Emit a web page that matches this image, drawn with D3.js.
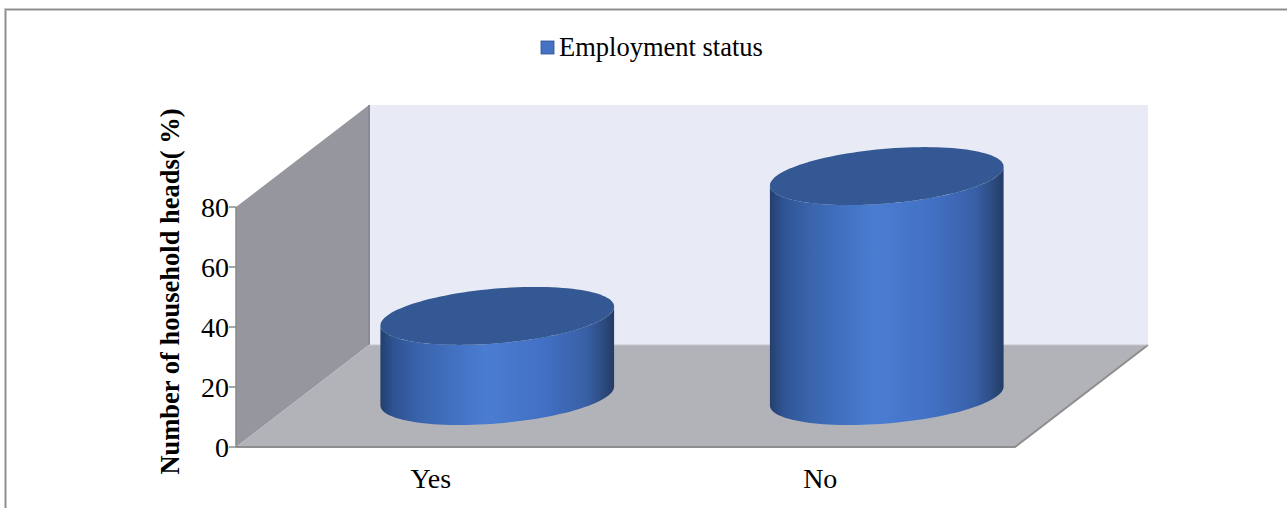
<!DOCTYPE html>
<html>
<head>
<meta charset="utf-8">
<script src="https://cdn.jsdelivr.net/npm/d3@7"></script>
<style>
  html, body { margin: 0; padding: 0; background: #ffffff; }
  svg { display: block; }
  text { font-family: "Liberation Serif", "Times New Roman", serif; fill: #000; }
</style>
</head>
<body>
<svg id="chart" width="1287" height="508"></svg>
<script>
// Employment status of household heads (%)
const categories = ["Yes", "No"];
const values = [26.7, 73.3];
const yTicks = [0, 20, 40, 60, 80];
const seriesName = "Employment status";
const yTitle = "Number of household heads( %)";

const W = 1287, H = 508;
const svg = d3.select("#chart");

// plot frame (front plane) and depth offset of the oblique 3D box
const plot = { left: 236, right: 1015, top: 207, bottom: 447 };
const depth = { dx: 133, dy: -102 };

const x = d3.scaleBand().domain(categories).range([plot.left, plot.right]).padding(0);
const y = d3.scaleLinear().domain([0, 80]).range([plot.bottom, plot.top]);

// outer chart border
svg.append("path")
  .attr("d", `M5.5,${H} L5.5,9.5 L${W},9.5`)
  .attr("fill", "none").attr("stroke", "#c8c8c8").attr("stroke-width", 3);
svg.append("path")
  .attr("d", `M5.5,${H} L5.5,9.5 L${W},9.5`)
  .attr("fill", "none").attr("stroke", "#8c8c8c").attr("stroke-width", 1);

const pt = (px, py, d) => [px + depth.dx * d, py + depth.dy * d];
const poly = pts => "M" + pts.map(p => p.join(",")).join("L") + "Z";

// back wall
svg.append("path")
  .attr("d", poly([pt(plot.left, y(80), 1), pt(plot.right, y(80), 1), pt(plot.right, y(0), 1), pt(plot.left, y(0), 1)]))
  .attr("fill", "#e8eaf6");

// side wall
svg.append("path")
  .attr("d", poly([[plot.left, y(0)], [plot.left, y(80)], pt(plot.left, y(80), 1), pt(plot.left, y(0), 1)]))
  .attr("fill", "#96969e");
svg.append("line")
  .attr("x1", pt(plot.left, y(80), 1)[0]).attr("y1", pt(plot.left, y(80), 1)[1])
  .attr("x2", pt(plot.left, y(0), 1)[0]).attr("y2", pt(plot.left, y(0), 1)[1])
  .attr("stroke", "#8a8a92").attr("stroke-width", 2);

// floor
svg.append("path")
  .attr("d", poly([[plot.left, y(0)], [plot.right, y(0)], pt(plot.right, y(0), 1), pt(plot.left, y(0), 1)]))
  .attr("fill", "#b1b3b9");
svg.append("path")
  .attr("d", `M${plot.left},${y(0)} L${plot.right},${y(0)} L${pt(plot.right, y(0), 1).join(",")}`)
  .attr("fill", "none").attr("stroke", "#8e8e8e").attr("stroke-width", 2);
svg.append("line")
  .attr("x1", pt(plot.left, y(0), 1)[0]).attr("y1", pt(plot.left, y(0), 1)[1])
  .attr("x2", pt(plot.right, y(0), 1)[0]).attr("y2", pt(plot.right, y(0), 1)[1])
  .attr("stroke", "#c4c5cc").attr("stroke-width", 1);

// value axis
const yAxis = svg.append("g");
yAxis.append("line")
  .attr("x1", plot.left).attr("x2", plot.left).attr("y1", y(80)).attr("y2", y(0))
  .attr("stroke", "#8a8a8a").attr("stroke-width", 1.5);
yAxis.selectAll("line.tick").data(yTicks).join("line")
  .attr("class", "tick")
  .attr("x1", plot.left - 7).attr("x2", plot.left)
  .attr("y1", d => y(d)).attr("y2", d => y(d))
  .attr("stroke", "#8a8a8a").attr("stroke-width", 1.5);
yAxis.selectAll("text").data(yTicks).join("text")
  .attr("x", plot.left - 7).attr("y", d => y(d))
  .attr("dy", "0.35em").attr("text-anchor", "end")
  .attr("font-size", 28).text(d => d);

// axis title
svg.append("text")
  .attr("transform", `translate(179,${(108 + 475) / 2}) rotate(-90)`)
  .attr("text-anchor", "middle").attr("font-size", 26.5).attr("font-weight", "bold")
  .text(yTitle);

// category labels
svg.selectAll("text.cat").data(categories).join("text")
  .attr("class", "cat")
  .attr("x", d => x(d) + x.bandwidth() / 2).attr("y", 488)
  .attr("text-anchor", "middle").attr("font-size", 28).text(d => d);

// cylinder side gradient
const defs = svg.append("defs");
const grad = defs.append("linearGradient").attr("id", "side").attr("x1", "0").attr("x2", "1").attr("y1", "0").attr("y2", "0");
[[0, "#243f6e"], [0.06, "#2f5494"], [0.18, "#3a65ae"], [0.45, "#4a7dd2"], [0.7, "#4270c4"], [0.88, "#3860a6"], [0.97, "#2a4677"], [1, "#233b66"]]
  .forEach(([o, c]) => grad.append("stop").attr("offset", o).attr("stop-color", c));

// cylinders: circular base projected to an oblique ellipse
const half = x.bandwidth() * 0.3;
const eb = 38, ec = -29;
const ea = Math.sqrt(half * half - eb * eb);
const tExt = Math.atan2(eb, ea);
const ellipsePt = (cx, cy, t) => [cx + ea * Math.cos(t) + eb * Math.sin(t), cy + ec * Math.sin(t)];
const line = d3.line();

categories.forEach((c, i) => {
  const [cx, cy0] = pt(x(c) + x.bandwidth() / 2, y(0), 0.5);
  const cy1 = pt(0, y(values[i]), 0.5)[1];
  const g = svg.append("g");
  // side: front half of bottom ellipse + back half of top ellipse
  const front = [];
  const tA = tExt, tB = tExt + Math.PI;
  for (let k = 0; k <= 60; k++) {
    const t = tB + (tA + 2 * Math.PI - tB) * k / 60;
    front.push(ellipsePt(cx, cy0, t));
  }
  const topBack = [];
  for (let k = 0; k <= 60; k++) {
    const t = tA + 2 * Math.PI - (tA + 2 * Math.PI - tB) * k / 60;
    topBack.push(ellipsePt(cx, cy1, t));
  }
  g.append("path").attr("d", line(front.concat(topBack)) + "Z").attr("fill", "url(#side)");
  const top = d3.range(0, 121).map(k => ellipsePt(cx, cy1, 2 * Math.PI * k / 120));
  g.append("path").attr("d", line(top) + "Z").attr("fill", "#335894");
});

// legend
const lg = svg.append("g");
lg.append("rect").attr("x", 541).attr("y", 41).attr("width", 13).attr("height", 13)
  .attr("fill", "#4472c4").attr("stroke", "#2f528f").attr("stroke-width", 0.8);
lg.append("text").attr("x", 559).attr("y", 56).attr("font-size", 26.5).text(seriesName);
</script>
</body>
</html>
